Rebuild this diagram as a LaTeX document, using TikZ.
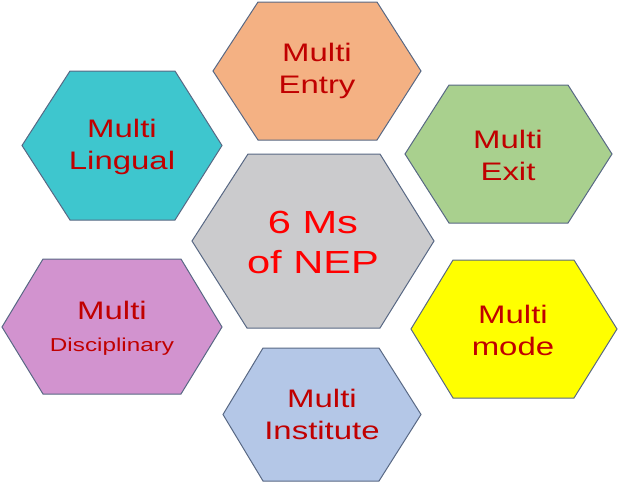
\documentclass[tikz,border=0pt]{standalone}
\usepackage{fontspec}
\newfontfamily\hexfont[FakeStretch=1.3]{Liberation Sans}
\definecolor{hexline}{RGB}{88,104,132}
\definecolor{entryfill}{RGB}{244,177,131}
\definecolor{lingualfill}{RGB}{62,198,206}
\definecolor{exitfill}{RGB}{169,208,142}
\definecolor{nepfill}{RGB}{203,203,205}
\definecolor{discfill}{RGB}{210,147,207}
\definecolor{modefill}{RGB}{255,255,0}
\definecolor{instfill}{RGB}{180,199,231}
\definecolor{mred}{RGB}{192,0,0}
\definecolor{nepred}{RGB}{255,0,0}

\begin{document}
\begin{tikzpicture}[x=0.75pt,y=0.75pt,yscale=-1,xscale=1,
  hexa/.style={draw=hexline, line width=0.75pt},
  mtext/.style={align=center, text=mred, font=\hexfont\fontsize{19}{24}\selectfont},
  neptext/.style={align=center, text=nepred, font=\hexfont\fontsize{24}{30}\selectfont}]
\useasboundingbox (0,0) rectangle (619,482);

%Shape: Hexagon [Entry]
\draw [hexa, fill=entryfill] (213,71) -- (258,2) -- (377,2) -- (421,71) -- (377,140) -- (258,140) -- cycle ;
%Shape: Hexagon [Lingual]
\draw [hexa, fill=lingualfill] (22,145.5) -- (70,71) -- (175,71) -- (222,145.5) -- (175,220) -- (70,220) -- cycle ;
%Shape: Hexagon [Exit]
\draw [hexa, fill=exitfill] (405,154) -- (449,85) -- (568,85) -- (612,154) -- (568,223) -- (449,223) -- cycle ;
%Shape: Hexagon [NEP]
\draw [hexa, fill=nepfill] (192,241) -- (248,154) -- (380,154) -- (434,241) -- (380,328) -- (247,328) -- cycle ;
%Shape: Hexagon [Disciplinary]
\draw [hexa, fill=discfill] (2,327) -- (43,259) -- (181,259) -- (222,327) -- (181,394) -- (43,394) -- cycle ;
%Shape: Hexagon [Mode]
\draw [hexa, fill=modefill] (411,329) -- (453,260) -- (574,260) -- (617,329) -- (574,398) -- (453,398) -- cycle ;
%Shape: Hexagon [Institute]
\draw [hexa, fill=instfill] (223,414.5) -- (263,348) -- (379,348) -- (421,414.5) -- (379,481) -- (263,481) -- cycle ;

% Text Node
\draw (317,71) node (entry) [mtext] {Multi\\Entry};
% Text Node
\draw (122,147) node (lingual) [mtext] {Multi\\Lingual};
% Text Node
\draw (508,155) node (exit) [mtext] {Multi\\Exit};
% Text Node
\draw (313,242) node (nep) [neptext] {6 Ms\\of NEP};
% Text Node
\draw (112,328) node (disc) [mtext] {Multi\\{\fontsize{14}{19}\selectfont Disciplinary}};
% Text Node
\draw (513,330) node (mode) [mtext] {Multi\\mode};
% Text Node
\draw (322,414) node (inst) [mtext] {Multi\\Institute};
\end{tikzpicture}
\end{document}
